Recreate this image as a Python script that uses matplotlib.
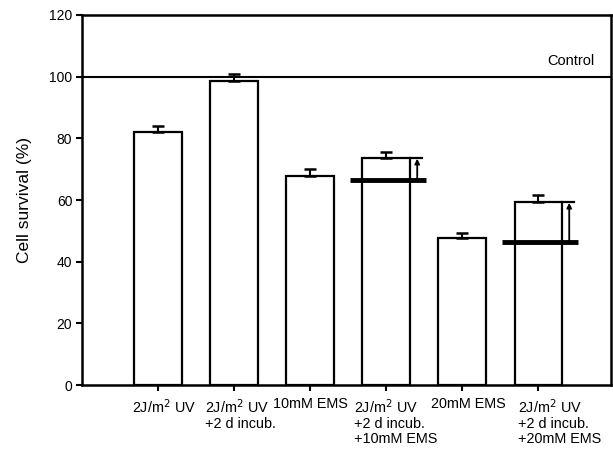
import matplotlib
matplotlib.use("Agg")
import matplotlib.pyplot as plt
from matplotlib.transforms import ScaledTranslation, blended_transform_factory

plt.rcParams['font.family'] = ['Liberation Sans', 'DejaVu Sans']

categories = ["2J/m$^2$ UV", "2J/m$^2$ UV\n+2 d incub.", "10mM EMS",
              "2J/m$^2$ UV\n+2 d incub.\n+10mM EMS", "20mM EMS",
              "2J/m$^2$ UV\n+2 d incub.\n+20mM EMS"]
survival = [82.2, 98.6, 67.9, 73.7, 47.7, 59.4]
errors = [1.8, 2.3, 2.2, 2.0, 1.5, 2.3]
# expected survival (thick reference lines) for combined treatments
expected_idx = [3, 5]
expected_val = [66.5, 46.4]
control_value = 100
yticks = [0, 20, 40, 60, 80, 100, 120]

fig = plt.figure(figsize=(6.13, 4.53), dpi=100)
ax = fig.add_axes([0.1338, 0.150, 0.8630, 0.8169])

x = list(range(1, len(categories) + 1))
bw = 0.62
ax.bar(x, survival, width=bw, color='white', edgecolor='black', linewidth=1.6, zorder=2)
ax.errorbar(x, survival, yerr=[[0] * len(errors), errors], fmt='none',
            ecolor='black', elinewidth=1.5, capsize=4.5, capthick=1.8, zorder=3)

ax.axhline(control_value, color='black', linewidth=1.5, zorder=1)
ax.text(6.43, 105.2, "Control", ha='center', va='center', fontsize=10.5)

for i, ev in zip(expected_idx, expected_val):
    xc = x[i]
    ax.plot([xc - 0.47, xc + 0.53], [ev, ev], color='black', linewidth=3.5,
            solid_capstyle='butt', zorder=4)
    ax.plot([xc + bw / 2, xc + 0.47], [survival[i], survival[i]], color='black',
            linewidth=1.6, zorder=4)
    ax.annotate("", xy=(xc + 0.41, survival[i] - 0.3), xytext=(xc + 0.41, ev),
                arrowprops=dict(arrowstyle='-|>', color='black', lw=1.3,
                                mutation_scale=7, shrinkA=0, shrinkB=0), zorder=4)

ax.set_xlim(0, 6.96)
ax.set_ylim(0, 120)
ax.set_yticks(yticks)
ax.set_yticklabels([str(v) for v in yticks], fontsize=10)
ax.set_xticks(x)
ax.set_xticklabels([""] * len(x))
trans = blended_transform_factory(ax.transData, ax.transAxes)
for xi, lab, dx in zip(x, categories, [6, 6, 0, 10, 6, 22]):
    ax.text(xi, 0, lab, transform=trans + ScaledTranslation(dx / 100, -12 / 100, fig.dpi_scale_trans),
            ha='center', va='top', multialignment='left', fontsize=10.4,
            linespacing=1.12, clip_on=False)
ax.set_ylabel("Cell survival (%)", fontsize=12.5, labelpad=12)

for s in ax.spines.values():
    s.set_linewidth(1.8)
ax.tick_params(direction='out', length=4, width=1.5, pad=3)

fig.savefig("out.png", dpi=100)
